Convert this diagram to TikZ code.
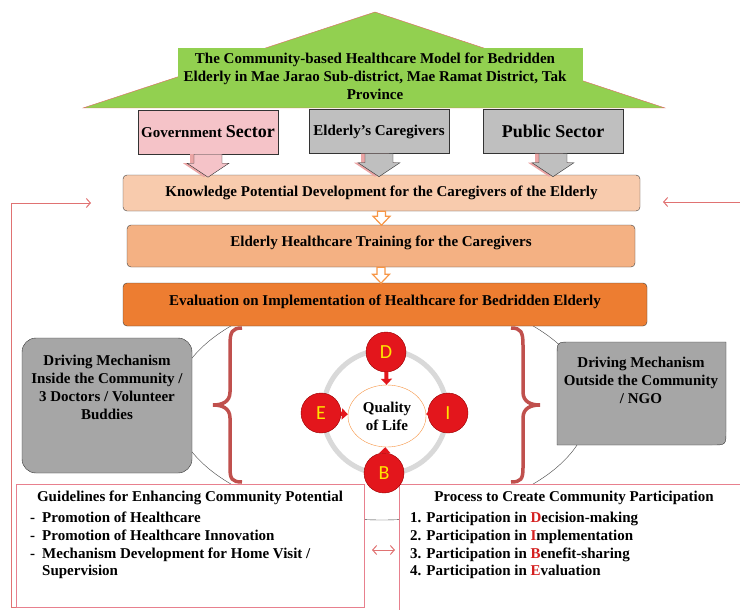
\documentclass[tikz,border=0pt]{standalone}
\usepackage{fontspec}
\setmainfont{Liberation Serif}
\newfontfamily\letterfont{Carlito}
\usetikzlibrary{arrows.meta,shapes.geometric}
\definecolor{roofgreen}{HTML}{92D050}
\definecolor{roofline}{HTML}{E06666}
\definecolor{govpink}{HTML}{F5C3C8}
\definecolor{sectgray}{HTML}{BFBFBF}
\definecolor{drivegray}{HTML}{A6A6A6}
\definecolor{knowfill}{HTML}{F8CBAD}
\definecolor{trainfill}{HTML}{F4B183}
\definecolor{evalfill}{HTML}{ED7D31}
\definecolor{flowline}{HTML}{F79646}
\definecolor{bracered}{HTML}{C0504D}
\definecolor{pinkline}{HTML}{E8808E}
\definecolor{fbred}{HTML}{E07272}
\definecolor{dotred}{HTML}{E3161C}
\definecolor{dotyellow}{HTML}{FFE500}
\definecolor{shadowpink}{HTML}{EBA5A5}
\definecolor{letterred}{HTML}{D42020}
\begin{document}
\begin{tikzpicture}[x=1pt,y=-1pt,>={Straight Barb[length=4pt,width=9pt]},
  font=\bfseries\fontsize{15}{18}\selectfont,
  sector/.style={draw=black!80,minimum width=140pt,minimum height=44pt,inner sep=0pt},
  flow/.style={draw=black!75,rounded corners=4pt,minimum height=#1,inner sep=0pt},
  lifted/.style={text height=10pt,text depth=9pt},
  dot/.style={circle,fill=dotred,draw=red!60!black,minimum size=40pt,inner sep=0pt,text=dotyellow,font=\letterfont\mdseries\fontsize{20}{20}\selectfont},
  qarrow/.style={dotred,line width=4pt,-{Triangle[length=6pt,width=11pt]}},
  fb/.style={fbred,line width=1pt}]
\useasboundingbox (0,0) rectangle (740,610);

% roof
\filldraw[fill=roofgreen,draw=roofline] (83,108)--(375,12)--(665,108)--cycle;
\fill[roofgreen] (178,48) rectangle (583,107.4);
\node[align=center] (title) at (375,76) {The Community-based Healthcare Model for Bedridden\\Elderly in Mae Jarao Sub-district, Mae Ramat District, Tak\\Province};

% ring round the middle
\draw[black!75] (382,405) ellipse[x radius=208pt,y radius=115pt];
\fill[white] (236,327) rectangle (521,483);
\foreach \x/\s in {230/1,523/-1}
  \draw[bracered,line width=3.5pt] (\x+12*\s,328) .. controls (\x+2*\s,328) and (\x,332) .. (\x,345) -- (\x,392)
    .. controls (\x,402) and (\x-8*\s,405) .. (\x-17*\s,405) .. controls (\x-8*\s,405) and (\x,408) .. (\x,418)
    -- (\x,468) .. controls (\x,479) and (\x+2*\s,482) .. (\x+12*\s,482);

\filldraw[fill=drivegray,draw=black!80,rounded corners=14pt] (22,338) rectangle (192,473);
\node[align=center] (inside) at (107,387) {Driving Mechanism\\Inside the Community /\\3 Doctors / Volunteer\\Buddies};
\filldraw[fill=drivegray,draw=black!80] (557,445) -- (557,356) .. controls (557,342) .. (571,342) -- (726,342)
  -- (726,431) .. controls (726,445) .. (712,445) -- cycle;
\node[align=center] (outside) at (641,380) {Driving Mechanism\\Outside the Community\\/ NGO};

% bottom boxes
\node[draw=pinkline,fill=white,minimum width=348pt,minimum height=123pt,anchor=north west,inner sep=0pt] (guide) at (16,484) {};
\node[draw=pinkline,fill=white,minimum width=345pt,minimum height=130pt,anchor=north west,inner sep=0pt] (proc) at (399,484) {};
\node (guidetitle) at (190,498) {Guidelines for Enhancing Community Potential};
\node[anchor=north west,align=left,inner sep=0pt,font=\bfseries\fontsize{15}{17.7}\selectfont] (guidelist) at (30,512)
  {\makebox[12pt][l]{-}Promotion of Healthcare\\\makebox[12pt][l]{-}Promotion of Healthcare Innovation\\
   \makebox[12pt][l]{-}Mechanism Development for Home Visit /\\\makebox[12pt][l]{}Supervision};
\node (proctitle) at (574,498) {Process to Create Community Participation};
\node[anchor=north west,align=left,inner sep=0pt,font=\bfseries\fontsize{15}{17.7}\selectfont] (proclist) at (410,512)
  {1. Participation in \textcolor{letterred}{D}ecision-making\\2. Participation in \textcolor{letterred}{I}mplementation\\
   3. Participation in \textcolor{letterred}{B}enefit-sharing\\4. Participation in \textcolor{letterred}{E}valuation};

% flow
\node[flow=36pt,fill=knowfill,minimum width=517pt] (know) at (381.5,193) {Knowledge Potential Development for the Caregivers of the Elderly};
\node[flow=42pt,fill=trainfill,minimum width=508pt,lifted] (train) at (381,246) {Elderly Healthcare Training for the Caregivers};
\node[flow=43pt,fill=evalfill,minimum width=524pt,lifted] (eval) at (385,304.5) {Evaluation on Implementation of Healthcare for Bedridden Elderly};
\foreach \a/\s in {know/5,train/7}
  \draw[flowline,fill=white,line width=1.2pt] (\a.south) ++(-4,0) -- ++(0,\s) -- ++(-4.5,0) -- ++(8.5,9) -- ++(8.5,-9) -- ++(-4.5,0) -- ++(0,-\s) -- cycle;

\node[sector,fill=govpink] (gov) at (208,132) {Government {\fontsize{18}{18}\selectfont Sector}};
\node[sector,fill=sectgray] (care) at (379,131.5) {Elderly's Caregivers};
\node[sector,fill=sectgray] (pub) at (553,131.5) {\fontsize{18}{18}\selectfont Public Sector};
\foreach \s/\c in {gov/govpink,care/sectgray,pub/sectgray}{
  \fill[shadowpink] ([xshift=-4pt]\s.south) ++(-14,0) -- ++(0,9) -- ++(-7,0) -- ++(21,14) -- ++(21,-14) -- ++(-7,0) -- ++(0,-9) -- cycle;
  \filldraw[fill=\c,draw=black!80] (\s.south) ++(-14,0) -- ++(0,9) -- ++(-7,0) -- ++(21,14) -- ++(21,-14) -- ++(-7,0) -- ++(0,-9) -- cycle;
}

% quality of life
\draw[black!15,line width=5pt] (385,412) circle[radius=62pt];
\node[dot] (D) at (386,352) {D};
\node[dot] (E) at (321,413) {E};
\node[dot] (I) at (448,413) {I};
\node[dot] (B) at (384,473) {B};
\node[ellipse,draw=flowline,fill=white,minimum width=78pt,minimum height=62pt,inner sep=0pt,align=center] (qol) at (387,416) {Quality\\of Life};
\foreach \c in {D,E,I,B}
  \draw[qarrow] (\c) -- (qol);

% feedback
\coordinate (lefttip) at (91,203);
\coordinate (rightend) at (742,202);
\coordinate (righttip) at (663,202);
\draw[fb,->] (guide.south west) -- ++(-5,0) |- (lefttip);
\draw[fb,->] (rightend) -- (righttip);
\coordinate (dl) at (372,550);
\coordinate (dr) at (395,550);
\draw[fb,<->] (dl) -- (dr);
\end{tikzpicture}
\end{document}
